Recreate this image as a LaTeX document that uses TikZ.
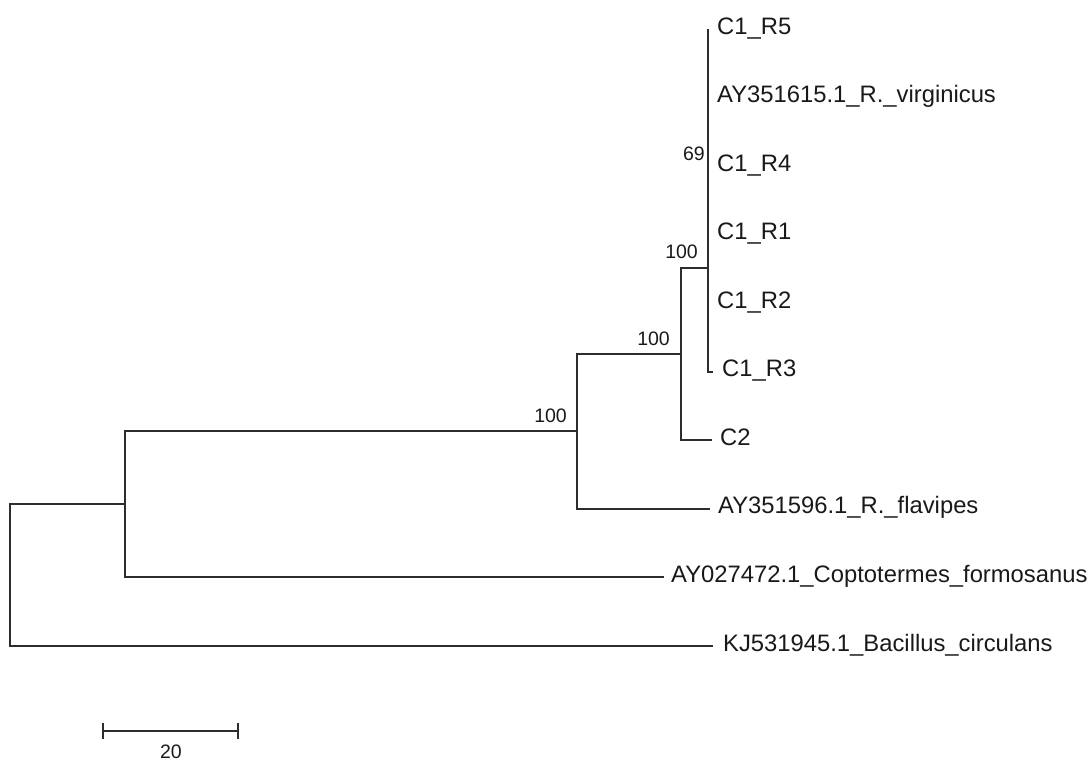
\documentclass[tikz,border=0pt]{standalone}
\usepackage{fontspec}
\setmainfont{Liberation Sans}
\definecolor{ln}{RGB}{45,45,45}
\definecolor{tx}{RGB}{25,25,25}
\begin{document}
\begin{tikzpicture}[x=1pt,y=-1pt,
  branch/.style={draw=ln,line width=1.9pt,line join=miter},
  leaf/.style={anchor=base west,inner sep=0pt,text=tx,font=\fontsize{23.8}{26}\selectfont},
  boot/.style={anchor=base east,inner sep=0pt,text=tx,font=\fontsize{19.5}{22}\selectfont}]
\useasboundingbox (0,0) rectangle (1092,761);
% internal nodes
\coordinate (n0) at (10,575.2);
\coordinate (n1) at (125,504.4);
\coordinate (n2) at (577,431.4);
\coordinate (n3) at (681,354);
\coordinate (n4) at (708,268);
% tips
\coordinate (tR5) at (708,29);
\coordinate (t615) at (708,97.5);
\coordinate (tR4) at (708,166.1);
\coordinate (tR1) at (708,234.6);
\coordinate (tR2) at (708,303.2);
\coordinate (tR3) at (713,371.7);
\coordinate (tC2) at (712,440.3);
\coordinate (t596) at (710,508.8);
\coordinate (t472) at (664,577.4);
\coordinate (tKJ) at (713,646);
% leaf labels
\node[leaf] (lR5) at (717,34) {C1\_R5};
\node[leaf] (l615) at (717,102.5) {AY351615.1\_R.\_virginicus};
\node[leaf] (lR4) at (717,171.1) {C1\_R4};
\node[leaf] (lR1) at (717,239.6) {C1\_R1};
\node[leaf] (lR2) at (717,308.2) {C1\_R2};
\node[leaf] (lR3) at (722,376.7) {C1\_R3};
\node[leaf] (lC2) at (720,445.3) {C2};
\node[leaf] (l596) at (718,513.8) {AY351596.1\_R.\_flavipes};
\node[leaf] (l472) at (671,582.4) {AY027472.1\_Coptotermes\_formosanus};
\node[leaf] (lKJ) at (723,651) {KJ531945.1\_Bacillus\_circulans};
% branches
\draw[branch] (tR5) |- (tR3);
\draw[branch] (n3) |- (n4);
\draw[branch] (n3) |- (tC2);
\draw[branch] (n2) |- (n3);
\draw[branch] (n2) |- (t596);
\draw[branch] (n1) |- (n2);
\draw[branch] (n1) |- (t472);
\draw[branch] (n0) |- (n1);
\draw[branch] (n0) |- (tKJ);
% bootstrap values
\node[boot] (b69) at (705,160) {69};
\node[boot] (b4) at (698,258) {100};
\node[boot] (b3) at (670,345) {100};
\node[boot] (b2) at (567,422) {100};
% scale bar
\coordinate (sa) at (103,731);
\coordinate (sb) at (238,731);
\draw[branch] (sa) -- (sb);
\draw[branch] ([yshift=-8pt]sa) -- ([yshift=8pt]sa);
\draw[branch] ([yshift=-8pt]sb) -- ([yshift=8pt]sb);
\node[anchor=base,inner sep=0pt,text=tx,font=\fontsize{19.5}{22}\selectfont] (sl) at (171,758) {20};
\end{tikzpicture}
\end{document}
